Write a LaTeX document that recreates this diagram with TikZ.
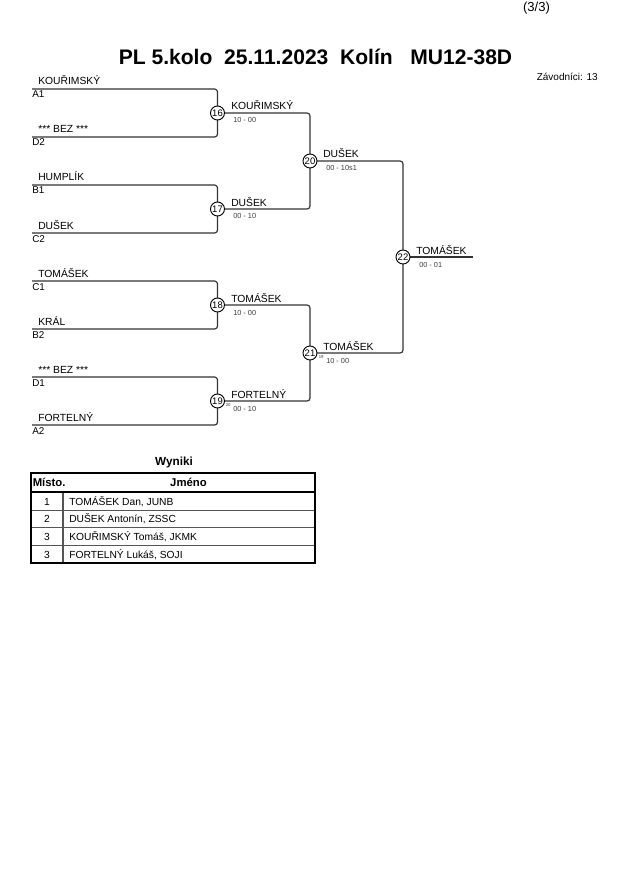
\documentclass[tikz,border=0pt]{standalone}
\usepackage{fontspec}
\setmainfont{Liberation Sans}
\usetikzlibrary{backgrounds}
\definecolor{linegrey}{HTML}{333333}
\definecolor{scoregrey}{HTML}{3A3A3A}
\definecolor{rowgrey}{HTML}{555555}
\begin{document}
\begin{tikzpicture}[x=0.75pt,y=-0.75pt,
  pname/.style={anchor=base west, inner sep=0pt, font=\fontsize{7.75}{9}\selectfont},
  pseed/.style={anchor=base west, inner sep=0pt, font=\fontsize{7.4}{9}\selectfont},
  pscore/.style={anchor=base west, inner sep=0pt, font=\fontsize{5.5}{6}\selectfont, text=scoregrey},
  ptiny/.style={anchor=base west, inner sep=0pt, font=\fontsize{3.2}{4}\selectfont, text=scoregrey},
  mcirc/.style={circle, draw=black, fill=white, minimum size=10.5pt, inner sep=0pt, line width=0.7pt, font=\fontsize{7.1}{7}\selectfont},
  bline/.style={line width=0.9pt, draw=linegrey, rounded corners=2.2pt},
  tcell/.style={anchor=base west, inner sep=0pt, font=\fontsize{7.7}{9}\selectfont},
  tnum/.style={anchor=base, inner sep=0pt, font=\fontsize{7.7}{9}\selectfont},
  thead/.style={inner sep=0pt, font=\fontsize{8.5}{10}\bfseries}]
\useasboundingbox (0,0) rectangle (630,891);

% header texts
\node[anchor=center, inner sep=0pt, font=\fontsize{9.8}{11}\selectfont] (page) at (536.5,8.5) {(3/3)};
\node[anchor=base, inner sep=0pt, font=\fontsize{15.8}{18}\bfseries] (title) at (315.5,65) {PL 5.kolo\ \ 25.11.2023\ \ Kolín\ \ \ MU12-38D};
\node[anchor=base east, inner sep=0pt, font=\fontsize{7.5}{9}\selectfont] (zav) at (598,80.5) {Závodníci: 13};

% match circles
\node[mcirc] (m16) at (217.5,113) {16};
\node[mcirc] (m17) at (217.5,209) {17};
\node[mcirc] (m18) at (217.5,305) {18};
\node[mcirc] (m19) at (217.5,401) {19};
\node[mcirc] (m20) at (310,161) {20};
\node[mcirc] (m21) at (310,353) {21};
\node[mcirc] (m22) at (403,257) {22};

% first-round line starts
\coordinate (A1) at (32,89);
\coordinate (D2) at (32,137);
\coordinate (B1) at (32,185);
\coordinate (C2) at (32,233);
\coordinate (C1) at (32,281);
\coordinate (B2) at (32,329);
\coordinate (D1) at (32,377);
\coordinate (A2) at (32,425);
\coordinate (fin) at (473,257);

\begin{pgfonlayer}{background}
\draw[bline] (A1) -| (m16.center) |- (D2);
\draw[bline] (B1) -| (m17.center) |- (C2);
\draw[bline] (C1) -| (m18.center) |- (B2);
\draw[bline] (D1) -| (m19.center) |- (A2);
\draw[bline] (m16.center) -| (m20.center) |- (m17.center);
\draw[bline] (m18.center) -| (m21.center) |- (m19.center);
\draw[bline] (m20.center) -| (m22.center) |- (m21.center);
\draw[bline] (m22.center) -- (fin);
\end{pgfonlayer}

% first-round names and seeds
\node[pname] (nA1) at (38,85) {KOUŘIMSKÝ};
\node[pseed] (sA1) at (32,98) {A1};
\node[pname] (nD2) at (38,133) {*** BEZ ***};
\node[pseed] (sD2) at (32,146) {D2};
\node[pname] (nB1) at (38,181) {HUMPLÍK};
\node[pseed] (sB1) at (32,194) {B1};
\node[pname] (nC2) at (38,229) {DUŠEK};
\node[pseed] (sC2) at (32,242) {C2};
\node[pname] (nC1) at (38,277) {TOMÁŠEK};
\node[pseed] (sC1) at (32,290) {C1};
\node[pname] (nB2) at (38,325) {KRÁL};
\node[pseed] (sB2) at (32,338) {B2};
\node[pname] (nD1) at (38,373) {*** BEZ ***};
\node[pseed] (sD1) at (32,386) {D1};
\node[pname] (nA2) at (38,421) {FORTELNÝ};
\node[pseed] (sA2) at (32,434) {A2};

% winners and scores
\node[pname] (w16) at (231,110) {KOUŘIMSKÝ};
\node[pscore] (r16) at (233,123) {10 - 00};
\node[pname] (w17) at (231,206) {DUŠEK};
\node[pscore] (r17) at (233,219) {00 - 10};
\node[pname] (w18) at (231,302) {TOMÁŠEK};
\node[pscore] (r18) at (233,315) {10 - 00};
\node[pname] (w19) at (231,398) {FORTELNÝ};
\node[pscore] (r19) at (233,411) {00 - 10};
\node[ptiny] (t19) at (225.5,406) {20};
\node[pname] (w20) at (323,158) {DUŠEK};
\node[pscore] (r20) at (326,171) {00 - 10s1};
\node[pname] (w21) at (323,350) {TOMÁŠEK};
\node[pscore] (r21) at (326,363) {10 - 00};
\node[ptiny] (t21) at (318.5,358) {19};
\node[pname] (w22) at (416,254) {TOMÁŠEK};
\node[pscore] (r22) at (419,267) {00 - 01};

% results table
\node[anchor=base, inner sep=0pt, font=\fontsize{8.8}{10}\bfseries] (wyn) at (174,465) {Wyniki};
\coordinate (tl) at (31,473);
\coordinate (br) at (315,563);
\draw[rowgrey, line width=0.6pt] (31,510) -- (315,510) (31,527) -- (315,527) (31,545) -- (315,545);
\draw[rowgrey, line width=0.9pt] (63,492) -- (63,563);
\draw[black, line width=1.1pt] (31,492) -- (315,492);
\draw[black, line width=1.4pt] (tl) rectangle (br);
\node[thead, anchor=base west] (hm) at (32.5,486.5) {Místo.};
\node[thead, anchor=base] (hj) at (188.5,486.5) {Jméno};
\node[tnum] (p1) at (47,505) {1};
\node[tcell] (c1) at (69,505) {TOMÁŠEK Dan, JUNB};
\node[tnum] (p2) at (47,522) {2};
\node[tcell] (c2) at (69,522) {DUŠEK Antonín, ZSSC};
\node[tnum] (p3) at (47,540) {3};
\node[tcell] (c3) at (69,540) {KOUŘIMSKÝ Tomáš, JKMK};
\node[tnum] (p4) at (47,558) {3};
\node[tcell] (c4) at (69,558) {FORTELNÝ Lukáš, SOJI};
\end{tikzpicture}
\end{document}
